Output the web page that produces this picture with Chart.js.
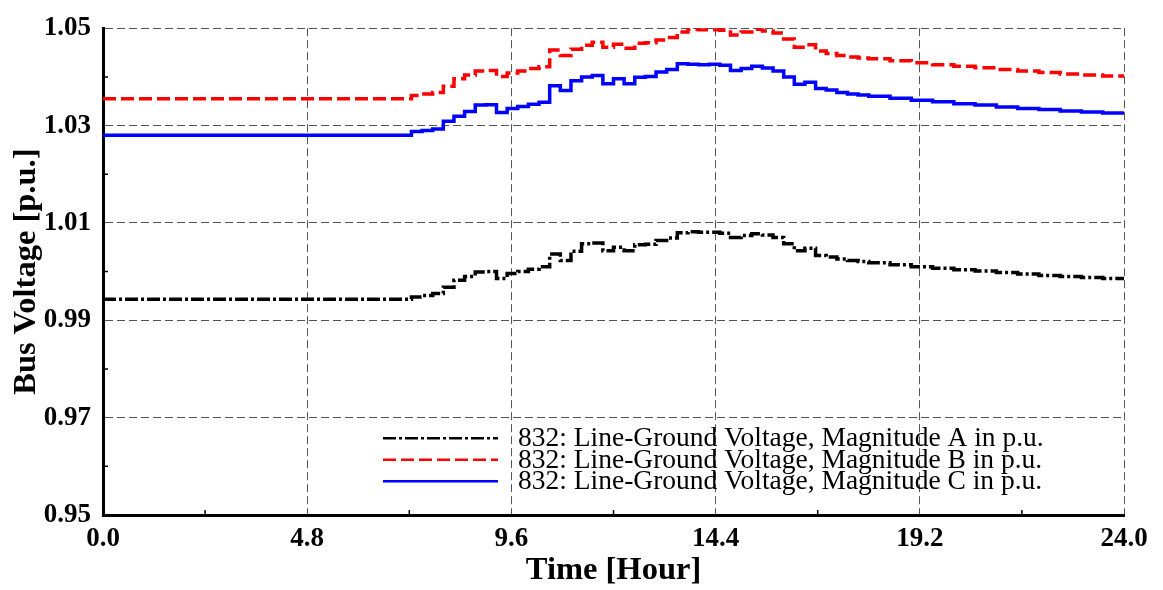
<!DOCTYPE html>
<html>
<head>
<meta charset="utf-8">
<script src="https://cdn.jsdelivr.net/npm/chart.js@4.4.0/dist/chart.umd.min.js"></script>
<style>
  html, body { margin: 0; padding: 0; background: #fff; }
</style>
</head>
<body>
<canvas id="graphique" width="1163" height="590"></canvas>
<script>
// heures (debut de chaque palier) et tensions
const heures = [0, 7.25, 7.5, 7.75, 8, 8.25, 8.5, 8.75, 9, 9.25, 9.5, 9.75, 10, 10.25, 10.5, 10.75,
    11, 11.25, 11.5, 11.75, 12, 12.25, 12.5, 12.75, 13, 13.25, 13.5, 13.75, 14, 14.25, 14.5, 14.75,
    15, 15.25, 15.5, 15.75, 16, 16.25, 16.5, 16.75, 17, 17.25, 17.5, 17.75, 18, 18.5, 19, 19.5,
    20, 20.5, 21, 21.5, 22, 22.5, 23, 23.5, 24];

const tensionA = [0.9943, 0.9948, 0.9951, 0.9955, 0.9968, 0.9982, 0.9990, 0.9999, 1.0000, 0.9986, 0.9996, 1.0000, 1.0005, 1.0010, 1.0036, 1.0023,
    1.0042, 1.0057, 1.0059, 1.0043, 1.0050, 1.0043, 1.0055, 1.0056, 1.0064, 1.0069, 1.0080, 1.0082, 1.0081, 1.0081, 1.0079, 1.0070,
    1.0074, 1.0078, 1.0075, 1.0070, 1.0057, 1.0043, 1.0048, 1.0033, 1.0030, 1.0026, 1.0023, 1.0021, 1.0018, 1.0014, 1.0010, 1.0007,
    1.0004, 1.0001, 0.9998, 0.9995, 0.9992, 0.9990, 0.9988, 0.9986, 0.9984];

const tensionB = [1.0355, 1.0362, 1.0365, 1.0368, 1.0381, 1.0396, 1.0404, 1.0412, 1.0413, 1.0401, 1.0408, 1.0412, 1.0417, 1.0421, 1.0455, 1.0444,
    1.0457, 1.0465, 1.0471, 1.0461, 1.0467, 1.0459, 1.0469, 1.0470, 1.0476, 1.0481, 1.0492, 1.0498, 1.0497, 1.0497, 1.0496, 1.0486,
    1.0492, 1.0498, 1.0494, 1.0490, 1.0478, 1.0461, 1.0466, 1.0453, 1.0448, 1.0444, 1.0441, 1.0439, 1.0437, 1.0433, 1.0429, 1.0425,
    1.0422, 1.0419, 1.0415, 1.0412, 1.0409, 1.0406, 1.0404, 1.0402, 1.0401];

const tensionC = [1.0280, 1.0288, 1.0290, 1.0293, 1.0309, 1.0319, 1.0329, 1.0342, 1.0343, 1.0327, 1.0335, 1.0339, 1.0344, 1.0348, 1.0382, 1.0372,
    1.0392, 1.0400, 1.0403, 1.0386, 1.0396, 1.0386, 1.0399, 1.0401, 1.0410, 1.0415, 1.0427, 1.0426, 1.0425, 1.0426, 1.0424, 1.0413,
    1.0417, 1.0422, 1.0418, 1.0412, 1.0400, 1.0385, 1.0389, 1.0376, 1.0373, 1.0368, 1.0365, 1.0363, 1.0360, 1.0356, 1.0352, 1.0349,
    1.0345, 1.0342, 1.0338, 1.0335, 1.0333, 1.0330, 1.0328, 1.0326, 1.0324];

const noms = [
    "832: Line-Ground Voltage, Magnitude A in p.u.",
    "832: Line-Ground Voltage, Magnitude B in p.u.",
    "832: Line-Ground Voltage, Magnitude C in p.u."
];

// graduations principales (les autres sont les petites graduations)
const ticksX = [0, 4.8, 9.6, 14.4, 19.2, 24];
const ticksY = [0.95, 0.97, 0.99, 1.01, 1.03, 1.05];

function estMajeur(v, liste) {
    return liste.some(t => Math.abs(t - v) < 1e-6);
}

function points(valeurs) {
    return heures.map((h, i) => ({x: h, y: valeurs[i]}));
}

const police = '"Liberation Serif", "Times New Roman", serif';

// legende dessinee dans la zone du graphique
const legendeInterne = {
    id: 'legendeInterne',
    afterDatasetsDraw(chart) {
        const {ctx, chartArea} = chart;
        const x0 = chartArea.left + 280, x1 = chartArea.left + 395, xt = chartArea.left + 415;
        let y = chartArea.top + 410;
        ctx.save();
        ctx.font = '27.5px ' + police;
        ctx.textBaseline = 'middle';
        chart.data.datasets.forEach(ds => {
            ctx.strokeStyle = ds.borderColor;
            ctx.lineWidth = 2.5;
            ctx.setLineDash(ds.borderDash || []);
            ctx.beginPath();
            ctx.moveTo(x0, y);
            ctx.lineTo(x1, y);
            ctx.stroke();
            ctx.setLineDash([]);
            ctx.fillStyle = '#000';
            ctx.fillText(ds.label, xt, y + 1);
            y += 21.5;
        });
        ctx.restore();
    }
};

// petites graduations vers l'interieur
const petitesGraduations = {
    id: 'petitesGraduations',
    afterDraw(chart) {
        const {ctx} = chart;
        const sx = chart.scales.x, sy = chart.scales.y;
        ctx.save();
        ctx.strokeStyle = '#000';
        ctx.lineWidth = 1.5;
        ctx.beginPath();
        sx.ticks.forEach(t => {
            if (!estMajeur(t.value, ticksX)) {
                const p = sx.getPixelForValue(t.value);
                ctx.moveTo(p, sx.top);
                ctx.lineTo(p, sx.top - 5);
            }
        });
        sy.ticks.forEach(t => {
            if (!estMajeur(t.value, ticksY)) {
                const p = sy.getPixelForValue(t.value);
                ctx.moveTo(sy.right, p);
                ctx.lineTo(sy.right + 5, p);
            }
        });
        ctx.stroke();
        ctx.restore();
    }
};

function grille(liste) {
    return {
        color: c => estMajeur(c.tick.value, liste) ? '#555' : 'rgba(0,0,0,0)',
        lineWidth: 1,
        drawTicks: false
    };
}

const donnees = {
    type: 'line',
    data: {
        datasets: [
            {label: noms[0], data: points(tensionA), borderColor: '#000000', borderWidth: 3.5, borderDash: [13, 3, 3, 3]},
            {label: noms[1], data: points(tensionB), borderColor: '#ff0000', borderWidth: 3.5, borderDash: [13, 5]},
            {label: noms[2], data: points(tensionC), borderColor: '#0000ff', borderWidth: 3.5}
        ]
    },
    options: {
        responsive: false,
        animation: false,
        layout: {padding: {top: 24, right: 39, left: 0, bottom: 0}},
        elements: {
            point: {radius: 0},
            line: {stepped: 'before', tension: 0, borderCapStyle: 'butt'}
        },
        plugins: {
            legend: {display: false},
            tooltip: {enabled: false}
        },
        scales: {
            x: {
                type: 'linear',
                min: 0,
                max: 24,
                ticks: {
                    stepSize: 2.4,
                    autoSkip: false,
                    maxRotation: 0,
                    padding: 8,
                    color: '#000',
                    font: {family: police, size: 27, weight: 'bold'},
                    callback: v => estMajeur(v, ticksX) ? v.toFixed(1) : ''
                },
                grid: grille(ticksX),
                border: {display: true, color: '#000', width: 3, dash: [8, 4]},
                title: {
                    display: true,
                    text: 'Time [Hour]',
                    color: '#000',
                    font: {family: police, size: 32.5, weight: 'bold'},
                    padding: {top: 0, bottom: 0}
                },
                afterFit: s => { s.height = 75; }
            },
            y: {
                min: 0.95,
                max: 1.05,
                ticks: {
                    stepSize: 0.01,
                    autoSkip: false,
                    padding: 12,
                    color: '#000',
                    font: {family: police, size: 27, weight: 'bold'},
                    callback: v => estMajeur(v, ticksY) ? v.toFixed(2) : ''
                },
                grid: grille(ticksY),
                border: {display: true, color: '#000', width: 3, dash: [8, 4]},
                title: {
                    display: true,
                    text: 'Bus Voltage [p.u.]',
                    color: '#000',
                    font: {family: police, size: 32.5, weight: 'bold'},
                    padding: {top: 7, bottom: 0}
                },
                afterFit: s => { s.width = 103; }
            }
        }
    },
    plugins: [legendeInterne, petitesGraduations]
};

window.graphique = new Chart(document.getElementById('graphique'), donnees);
</script>
</body>
</html>
